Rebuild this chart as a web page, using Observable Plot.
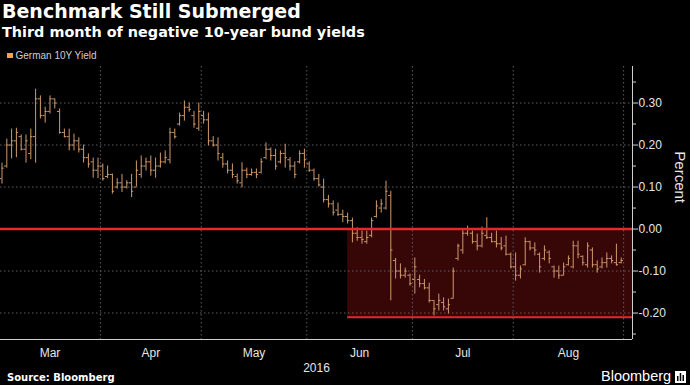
<!DOCTYPE html>
<html>
<head>
<meta charset="utf-8">
<script src="https://cdn.jsdelivr.net/npm/d3@7"></script>
<script src="https://cdn.jsdelivr.net/npm/@observablehq/plot@0.6"></script>
<style>
  html, body { margin: 0; padding: 0; background: #000; }
  #wrap { position: relative; width: 690px; height: 385px; overflow: hidden; background: #000; }
  .t { position: absolute; white-space: nowrap; color: #fff; }
  #title { left: 2px; top: 2.2px; font: bold 19px/19px "DejaVu Sans", sans-serif; }
  #subtitle { left: 2px; top: 24.5px; font: bold 14.4px/14.4px "DejaVu Sans", sans-serif; }
  #legend { left: 15.5px; top: 50.8px; font: 10px/10px "Liberation Sans", Arial, sans-serif; color: #cfcfcf; }
  #swatch { position: absolute; left: 7px; top: 52.5px; width: 5.5px; height: 5.5px; background: #f6a04d; }
  #source { left: 7px; top: 373px; font: bold 10px/10px "DejaVu Sans", sans-serif; }
  #brand { left: 601px; top: 368.7px; font: 14.5px/14.5px "Liberation Sans", Arial, sans-serif; }
  #icon { position: absolute; left: 675px; top: 371px; }
  #chart { position: absolute; left: 0; top: 60px; }
</style>
</head>
<body>
<div id="wrap">
  <div class="t" id="title">Benchmark Still Submerged</div>
  <div class="t" id="subtitle">Third month of negative 10-year bund yields</div>
  <div id="swatch"></div>
  <div class="t" id="legend">German 10Y Yield</div>
  <div id="chart"></div>
  <div class="t" id="source">Source: Bloomberg</div>
  <div class="t" id="brand">Bloomberg</div>
  <svg id="icon" width="11" height="12" viewBox="0 0 11 12">
    <rect x="0" y="0" width="11" height="12" fill="#fff"/>
    <rect x="2" y="5" width="1.5" height="5" fill="#000"/>
    <rect x="4.75" y="2" width="1.5" height="8" fill="#000"/>
    <rect x="7.5" y="4" width="1.5" height="6" fill="#000"/>
  </svg>
</div>
<script>
// ---- Data (German 10Y bund yield, daily OHLC, trading days Mar 1 – Aug 31, 2016) ----
const monthNames = ["Mar", "Apr", "May", "Jun", "Jul", "Aug"];
const monthDays = [21, 21, 22, 22, 21, 23];   // trading days per month
const yearLabel = "2016";
const seriesName = "German 10Y Yield";

const opens = [
  0.12, 0.15, 0.20, 0.21, 0.22, 0.19, 0.18, 0.22, 0.31, 0.27,
  0.28, 0.31, 0.28, 0.23, 0.22, 0.20, 0.21, 0.19, 0.17, 0.16,
  0.14, 0.15, 0.125, 0.13, 0.10, 0.11, 0.10, 0.11, 0.10, 0.13,
  0.15, 0.16, 0.14, 0.15, 0.16, 0.165, 0.23, 0.25, 0.27, 0.29,
  0.27, 0.24, 0.27, 0.26, 0.21, 0.20, 0.17, 0.155, 0.14, 0.125,
  0.11, 0.14, 0.13, 0.135, 0.135, 0.17, 0.19, 0.175, 0.16, 0.18,
  0.165, 0.15, 0.16, 0.18, 0.155, 0.14, 0.12, 0.10, 0.07, 0.06,
  0.045, 0.035, 0.03, 0.02, -0.01, -0.02, -0.03, -0.015, 0.03, 0.05,
  0.05, 0.08, -0.075, -0.10, -0.11, -0.11, -0.12, -0.12, -0.13, -0.14,
  -0.17, -0.18, -0.175, -0.19, -0.165, -0.07, -0.05, -0.01, -0.01, -0.03,
  -0.04, -0.015, -0.02, -0.03, -0.035, -0.04, -0.06, -0.09, -0.11, -0.085,
  -0.03, -0.045, -0.06, -0.07, -0.055, -0.09, -0.10, -0.11, -0.085, -0.09,
  -0.04, -0.065, -0.085, -0.05, -0.085, -0.09, -0.08, -0.07, -0.08, -0.08
];
const highs = [
  0.157, 0.214, 0.238, 0.24, 0.224, 0.224, 0.238, 0.333, 0.317, 0.29,
  0.317, 0.31, 0.286, 0.238, 0.238, 0.226, 0.217, 0.20, 0.179, 0.169,
  0.169, 0.155, 0.15, 0.131, 0.12, 0.13, 0.115, 0.13, 0.162, 0.174,
  0.169, 0.174, 0.169, 0.181, 0.186, 0.24, 0.238, 0.276, 0.305, 0.30,
  0.28, 0.30, 0.28, 0.276, 0.22, 0.217, 0.18, 0.162, 0.155, 0.131,
  0.158, 0.145, 0.143, 0.143, 0.167, 0.205, 0.193, 0.19, 0.186, 0.202,
  0.17, 0.16, 0.186, 0.19, 0.16, 0.143, 0.13, 0.119, 0.08, 0.067,
  0.062, 0.045, 0.038, 0.026, 0.003, -0.005, -0.005, 0.026, 0.067, 0.07,
  0.114, 0.09, -0.07, -0.083, -0.093, -0.107, -0.069, -0.11, -0.12, -0.129,
  -0.17, -0.155, -0.164, -0.167, -0.093, -0.036, 0.0, 0.007, -0.005, -0.012,
  0.005, 0.027, -0.01, -0.005, -0.02, -0.017, -0.057, -0.057, -0.088, -0.021,
  -0.029, -0.033, -0.057, -0.04, -0.052, -0.088, -0.088, -0.081, -0.064, -0.029,
  -0.029, -0.064, -0.033, -0.045, -0.076, -0.069, -0.057, -0.064, -0.036, -0.069
];
const lows = [
  0.107, 0.145, 0.167, 0.17, 0.186, 0.157, 0.165, 0.157, 0.262, 0.252,
  0.274, 0.286, 0.226, 0.217, 0.186, 0.186, 0.181, 0.157, 0.145, 0.121,
  0.12, 0.114, 0.12, 0.083, 0.095, 0.087, 0.095, 0.075, 0.10, 0.121,
  0.138, 0.126, 0.121, 0.145, 0.155, 0.155, 0.214, 0.245, 0.257, 0.278,
  0.24, 0.233, 0.25, 0.198, 0.195, 0.162, 0.145, 0.131, 0.12, 0.107,
  0.098, 0.12, 0.126, 0.12, 0.131, 0.165, 0.162, 0.14, 0.155, 0.145,
  0.138, 0.12, 0.155, 0.145, 0.135, 0.114, 0.10, 0.062, 0.05, 0.031,
  0.03, 0.015, 0.012, -0.033, -0.029, -0.036, -0.036, -0.021, 0.026, 0.038,
  0.045, -0.171, -0.119, -0.119, -0.117, -0.136, -0.155, -0.14, -0.145, -0.176,
  -0.207, -0.195, -0.195, -0.202, -0.167, -0.076, -0.06, -0.017, -0.036, -0.052,
  -0.045, -0.025, -0.033, -0.045, -0.052, -0.064, -0.095, -0.124, -0.119, -0.088,
  -0.052, -0.064, -0.105, -0.076, -0.083, -0.117, -0.12, -0.112, -0.088, -0.095,
  -0.071, -0.088, -0.093, -0.093, -0.105, -0.095, -0.093, -0.083, -0.088, -0.083
];
const closes = [
  0.145, 0.20, 0.21, 0.23, 0.19, 0.21, 0.22, 0.31, 0.27, 0.28,
  0.31, 0.30, 0.23, 0.22, 0.20, 0.21, 0.19, 0.17, 0.155, 0.14,
  0.15, 0.12, 0.13, 0.09, 0.11, 0.10, 0.11, 0.09, 0.14, 0.15,
  0.16, 0.14, 0.15, 0.16, 0.17, 0.23, 0.22, 0.27, 0.29, 0.285,
  0.25, 0.28, 0.26, 0.21, 0.20, 0.18, 0.155, 0.14, 0.13, 0.115,
  0.14, 0.13, 0.135, 0.13, 0.16, 0.19, 0.175, 0.15, 0.18, 0.17,
  0.15, 0.13, 0.18, 0.165, 0.14, 0.12, 0.105, 0.07, 0.06, 0.04,
  0.035, 0.03, 0.02, -0.01, -0.02, -0.025, -0.02, 0.02, 0.055, 0.06,
  0.09, -0.05, -0.10, -0.11, -0.10, -0.13, -0.09, -0.13, -0.14, -0.17,
  -0.19, -0.17, -0.185, -0.18, -0.10, -0.04, -0.01, 0.0, -0.03, -0.04,
  -0.01, -0.02, -0.03, -0.035, -0.045, -0.06, -0.09, -0.11, -0.095, -0.03,
  -0.045, -0.05, -0.09, -0.05, -0.07, -0.10, -0.11, -0.09, -0.07, -0.04,
  -0.06, -0.08, -0.04, -0.085, -0.095, -0.08, -0.07, -0.075, -0.085, -0.075
];

const yTicks = [-0.2, -0.1, 0, 0.1, 0.2, 0.3];
const yMinorTicks = [-0.25, -0.15, -0.05, 0.05, 0.15, 0.25, 0.35];
const negStartDay = 72;      // Jun 13: start of the negative-yield period (trading-day index)
const negFloor = -0.21;      // lower bound of highlighted band
const zeroLevel = 0;

// ---- Derived tables ----
const bars = opens.map((o, i) => ({i, open: o, high: highs[i], low: lows[i], close: closes[i]}));
const monthStarts = monthDays.map((d, k) => d3.sum(monthDays.slice(0, k)));
const monthCenters = monthStarts.map((s, k) => s + (monthDays[k] - 1) / 2);
const monthBounds = monthStarts.slice(1).map(s => s - 0.5).concat(d3.sum(monthDays) - 0.5);

const xDomain = [-0.3125, 131.35];
const yDomain = [-0.263, 0.387];
const band = [{x1: negStartDay, x2: xDomain[1], y1: negFloor, y2: zeroLevel}];

const barColor = "#cf9a6c";
const red = "#e8262c";
const gridColor = "#5e5e5e";
const axisColor = "#cfcfcf";

const chart = Plot.plot({
  width: 690,
  height: 325,
  marginLeft: 0,
  marginRight: 58,
  marginTop: 6,
  marginBottom: 46,
  style: {background: "transparent", color: "#e6e6e6", fontFamily: "'Liberation Sans', Arial, sans-serif", fontSize: "12px"},
  x: {type: "linear", domain: xDomain, label: null},
  y: {domain: yDomain, label: null},
  marks: [
    Plot.rect(band, {x1: "x1", x2: "x2", y1: "y1", y2: "y2", fill: "#370606"}),
    Plot.gridY(yTicks.filter(d => d !== zeroLevel), {stroke: gridColor, strokeOpacity: 1, strokeDasharray: "1.5,2.5"}),
    Plot.gridX(monthBounds, {stroke: gridColor, strokeOpacity: 1, strokeDasharray: "1.5,2.5"}),
    Plot.ruleX(bars, {x: "i", y1: "low", y2: "high", stroke: barColor, strokeWidth: 1}),
    Plot.ruleY(bars, {y: "open", x1: d => d.i - 0.45, x2: "i", stroke: barColor, strokeWidth: 1}),
    Plot.ruleY(bars, {y: "close", x1: "i", x2: d => d.i + 0.45, stroke: barColor, strokeWidth: 1}),
    Plot.ruleY([zeroLevel], {stroke: red, strokeWidth: 2.5}),
    Plot.ruleY(band, {y: "y1", x1: "x1", x2: "x2", stroke: red, strokeWidth: 2}),
    Plot.ruleX([xDomain[1]], {stroke: axisColor}),
    Plot.ruleY([yDomain[0]], {stroke: axisColor}),
    Plot.axisY(yTicks, {anchor: "right", tickSize: 5, tickPadding: 1, stroke: axisColor, tickFormat: d => d.toFixed(2), label: null}),
    Plot.axisY(yMinorTicks, {anchor: "right", tickSize: 3, stroke: axisColor, tickFormat: () => "", label: null}),
    Plot.axisX(monthCenters, {tickSize: 0, tickPadding: 9, tickFormat: d => monthNames[monthCenters.indexOf(d)], label: null}),
    Plot.text([yearLabel], {frameAnchor: "bottom", dy: 32, text: d => d, fontSize: 12}),
    Plot.text(["Percent"], {frameAnchor: "right", dx: 47, rotate: 90, text: d => d, fontSize: 15})
  ]
});
document.getElementById("chart").appendChild(chart);
document.getElementById("legend").textContent = seriesName;
</script>
</body>
</html>
